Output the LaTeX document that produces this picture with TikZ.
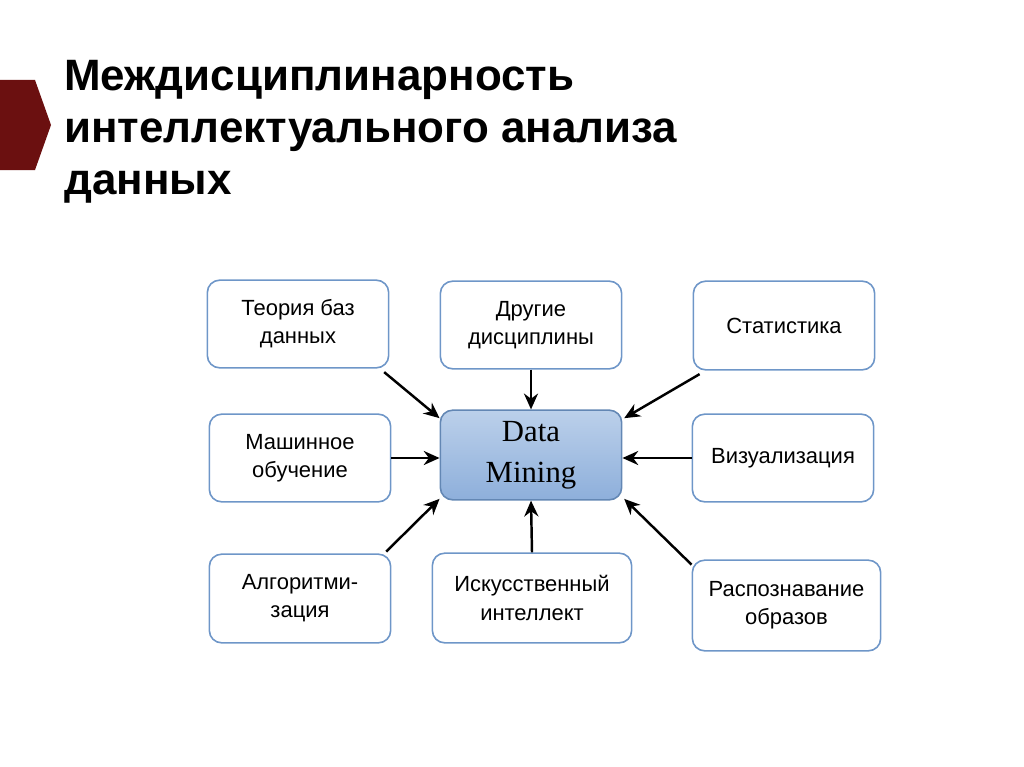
\documentclass[tikz,border=0pt]{standalone}
\usepackage{fontspec}
\setmainfont{Liberation Sans}
\newfontfamily\serifdm{Liberation Serif}
\usetikzlibrary{arrows.meta}
\definecolor{boxline}{HTML}{6E96C8}
\definecolor{dmtop}{HTML}{BBD0EA}
\definecolor{dmbot}{HTML}{8EAFDB}
\definecolor{darkred}{HTML}{6B1010}
\begin{document}
\begin{tikzpicture}[x=0.02cm,y=-0.02cm,
  tbox/.style={draw=boxline,line width=0.9pt,rounded corners=7pt,fill=white,align=center,font=\fontsize{12.5}{16}\selectfont,inner sep=0pt},
  arr/.style={-{Stealth[length=9pt,width=8pt]},line width=1.4pt}]
\useasboundingbox (0,0) rectangle (1024,767);
\fill[darkred] (0,80) -- (35,80) -- (51,125) -- (35,170) -- (0,170) -- cycle;
\node[anchor=north west,align=left,font=\fontsize{25}{29.5}\selectfont\bfseries,inner sep=0pt] (title) at (64,60)
 {Междисциплинарность\\интеллектуального анализа\\данных};
\node[tbox,minimum width=182*0.567pt,minimum height=88*0.567pt] (tb) at (298,324) {Теория баз\\данных};
\node[tbox,minimum width=182*0.567pt,minimum height=88*0.567pt] (dd) at (531,325) {Другие\\дисциплины};
\node[tbox,minimum width=182*0.567pt,minimum height=89*0.567pt] (st) at (784,325.5) {Статистика};
\node[tbox,minimum width=182*0.567pt,minimum height=88*0.567pt] (mo) at (300,458) {Машинное\\обучение};
\node[draw=boxline!90!black,line width=0.9pt,rounded corners=7pt,top color=dmtop,bottom color=dmbot,align=center,
  font=\serifdm\fontsize{17.5}{23.5}\selectfont,minimum width=182*0.567pt,minimum height=90*0.567pt,inner sep=0pt] (dm) at (531,455) {Data\\Mining};
\node[tbox,minimum width=182*0.567pt,minimum height=88*0.567pt] (vi) at (783,458) {Визуализация};
\node[tbox,minimum width=182*0.567pt,minimum height=89*0.567pt] (al) at (300,598.5) {Алгоритми-\\зация};
\node[tbox,minimum width=200*0.567pt,minimum height=90*0.567pt] (ii) at (532,598) {Искусственный\\интеллект};
\node[tbox,minimum width=189*0.567pt,minimum height=91*0.567pt] (ro) at (786.5,605.5) {Распознавание\\образов};
\draw[arr] ([xshift=-3pt,yshift=-2pt]tb.south east) -- ([yshift=-5pt]dm.north west);
\draw[arr] (dd.south) -- (dm.north);
\draw[arr] ([xshift=4pt,yshift=-2pt]st.south west) -- ([xshift=1pt,yshift=-5pt]dm.north east);
\draw[arr] (mo.east) -- (mo.east -| dm.west);
\draw[arr] (vi.west) -- (vi.west -| dm.east);
\draw[arr] ([xshift=-3pt,yshift=1pt]al.north east) -- ([yshift=1pt]dm.south west);
\draw[arr] (ii.north) -- (dm.south);
\draw[arr] ([yshift=-3pt]ro.north west) -- ([xshift=1pt,yshift=1pt]dm.south east);
\end{tikzpicture}
\end{document}
